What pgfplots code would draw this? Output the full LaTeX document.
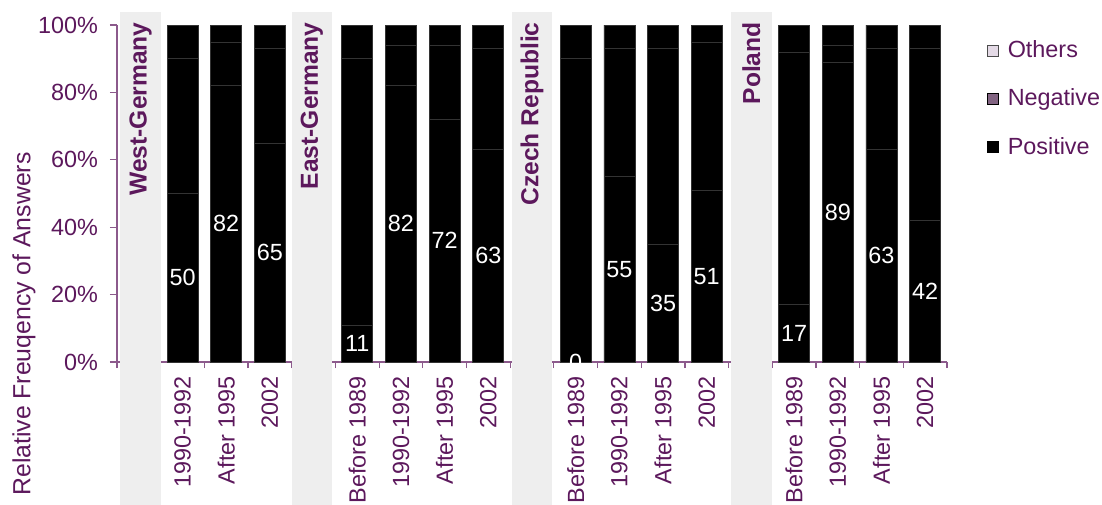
\documentclass[border=0pt]{standalone}
\usepackage{pgfplots}
\pgfplotsset{compat=1.18}
\usepackage{pgfplotstable}
\usepackage{fontspec}
\setmainfont{Liberation Sans}
\definecolor{axiscol}{RGB}{140,90,140}
\definecolor{txtcol}{RGB}{92,24,92}
\definecolor{bandcol}{RGB}{238,238,238}
\definecolor{othcol}{RGB}{228,218,230}
\definecolor{negcol}{RGB}{130,100,130}
\newcommand\fs{\fontsize{11.7}{13}\selectfont}

% x = position, p = positive, n = negative, o = others (percent)
\pgfplotstableread{
x  p  n  o
1  50 40 10
2  82 13 5
3  65 28 7
5  11 79 10
6  82 12 6
7  72 22 6
8  63 30 7
10 0  90 10
11 55 38 7
12 35 58 7
13 51 44 5
15 17 75 8
16 89 5  6
17 63 30 7
18 42 51 7
}\data

\begin{document}
\begin{tikzpicture}
\begin{axis}[
  at={(0pt,0pt)}, anchor=south west,
  scale only axis, width=415pt, height=168.5pt,
  xmin=-0.5, xmax=18.5, ymin=0, ymax=100,
  ybar stacked, bar width=0.71,
  clip=false,
  axis x line*=bottom, axis y line*=left,
  axis line style={draw=axiscol, line width=0.6pt},
  tick align=outside,
  every tick/.style={draw=axiscol, line width=0.6pt},
  xtick={1,2,3,5,6,7,8,10,11,12,13,15,16,17,18},
  xticklabels={1990-1992, After 1995, 2002, Before 1989, 1990-1992, After 1995, 2002, Before 1989, 1990-1992, After 1995, 2002, Before 1989, 1990-1992, After 1995, 2002},
  minor xtick={-0.5,0.5,...,18.5},
  major x tick style={draw=none},
  minor tick length=3pt, major tick length=3.5pt,
  ytick={0,20,...,100},
  yticklabels={0\%,20\%,40\%,60\%,80\%,100\%},
  xticklabel style={rotate=90, anchor=east, font=\fs, text=txtcol},
  yticklabel style={font=\fs, text=txtcol, xshift=-2.5pt},
  ylabel={Relative Freuqency of Answers},
  every axis y label/.style={at={(rel axis cs:-0.112,0.623)}, rotate=90, anchor=east, inner sep=0pt, font=\fontsize{12.4}{14}\selectfont, text=txtcol},
  reverse legend,
  legend style={at={(1.048,0.966)}, anchor=north west, draw=none, fill=none, inner sep=0pt, row sep=10.1pt, font=\fs, text=txtcol, cells={anchor=west},
    /tikz/every odd column/.append style={column sep=2.5pt}},
]
% country bands
\fill[bandcol] (axis cs:-0.42,-50) rectangle (axis cs:0.5,103.9);
\fill[bandcol] (axis cs:3.5,-50) rectangle (axis cs:4.42,103.9);
\fill[bandcol] (axis cs:8.55,-50) rectangle (axis cs:9.45,103.9);
\fill[bandcol] (axis cs:13.55,-50) rectangle (axis cs:14.5,103.9);

\addplot[fill=black, draw=black!80, line width=0.35pt,
  legend image code/.code={\draw[draw=black, fill=black] (0pt,-2.7pt) rectangle (5.4pt,2.7pt);}]
  table[x=x, y=p]{\data};
\addlegendentry{Positive}
\addplot[fill=black, draw=black!80, line width=0.35pt,
  legend image code/.code={\draw[draw=black, fill=negcol] (0pt,-2.7pt) rectangle (5.4pt,2.7pt);}]
  table[x=x, y=n]{\data};
\addlegendentry{Negative}
\addplot[fill=black, draw=black!80, line width=0.35pt,
  legend image code/.code={\draw[draw=black!70, fill=othcol] (0pt,-2.7pt) rectangle (5.4pt,2.7pt);}]
  table[x=x, y=o]{\data};
\addlegendentry{Others}
\end{axis}

\begin{axis}[
  at={(0pt,0pt)}, anchor=south west,
  scale only axis, width=415pt, height=168.5pt,
  xmin=-0.5, xmax=18.5, ymin=0, ymax=100,
  hide axis, clip=false,
  /pgf/number format/assume math mode=true,
]
\addplot[draw=none, nodes near coords, point meta=explicit,
  every node near coord/.append style={anchor=center, text=white, font=\fs}]
  table[x=x, y expr=\thisrow{p}/2, meta=p]{\data};

\node[rotate=90, anchor=east, inner sep=0pt, font=\bfseries\fontsize{12.3}{14}\selectfont, text=txtcol] at (axis cs:0.04,100.9) {West-Germany};
\node[rotate=90, anchor=east, inner sep=0pt, font=\bfseries\fontsize{12.3}{14}\selectfont, text=txtcol] at (axis cs:3.96,100.9) {East-Germany};
\node[rotate=90, anchor=east, inner sep=0pt, font=\bfseries\fontsize{12.3}{14}\selectfont, text=txtcol] at (axis cs:9.0,100.9) {Czech Republic};
\node[rotate=90, anchor=east, inner sep=0pt, font=\bfseries\fontsize{12.3}{14}\selectfont, text=txtcol] at (axis cs:14.02,100.9) {Poland};
\end{axis}

\pgfresetboundingbox
\useasboundingbox (-58.5pt,-71pt) rectangle (492.5pt,181pt);
\end{tikzpicture}
\end{document}
